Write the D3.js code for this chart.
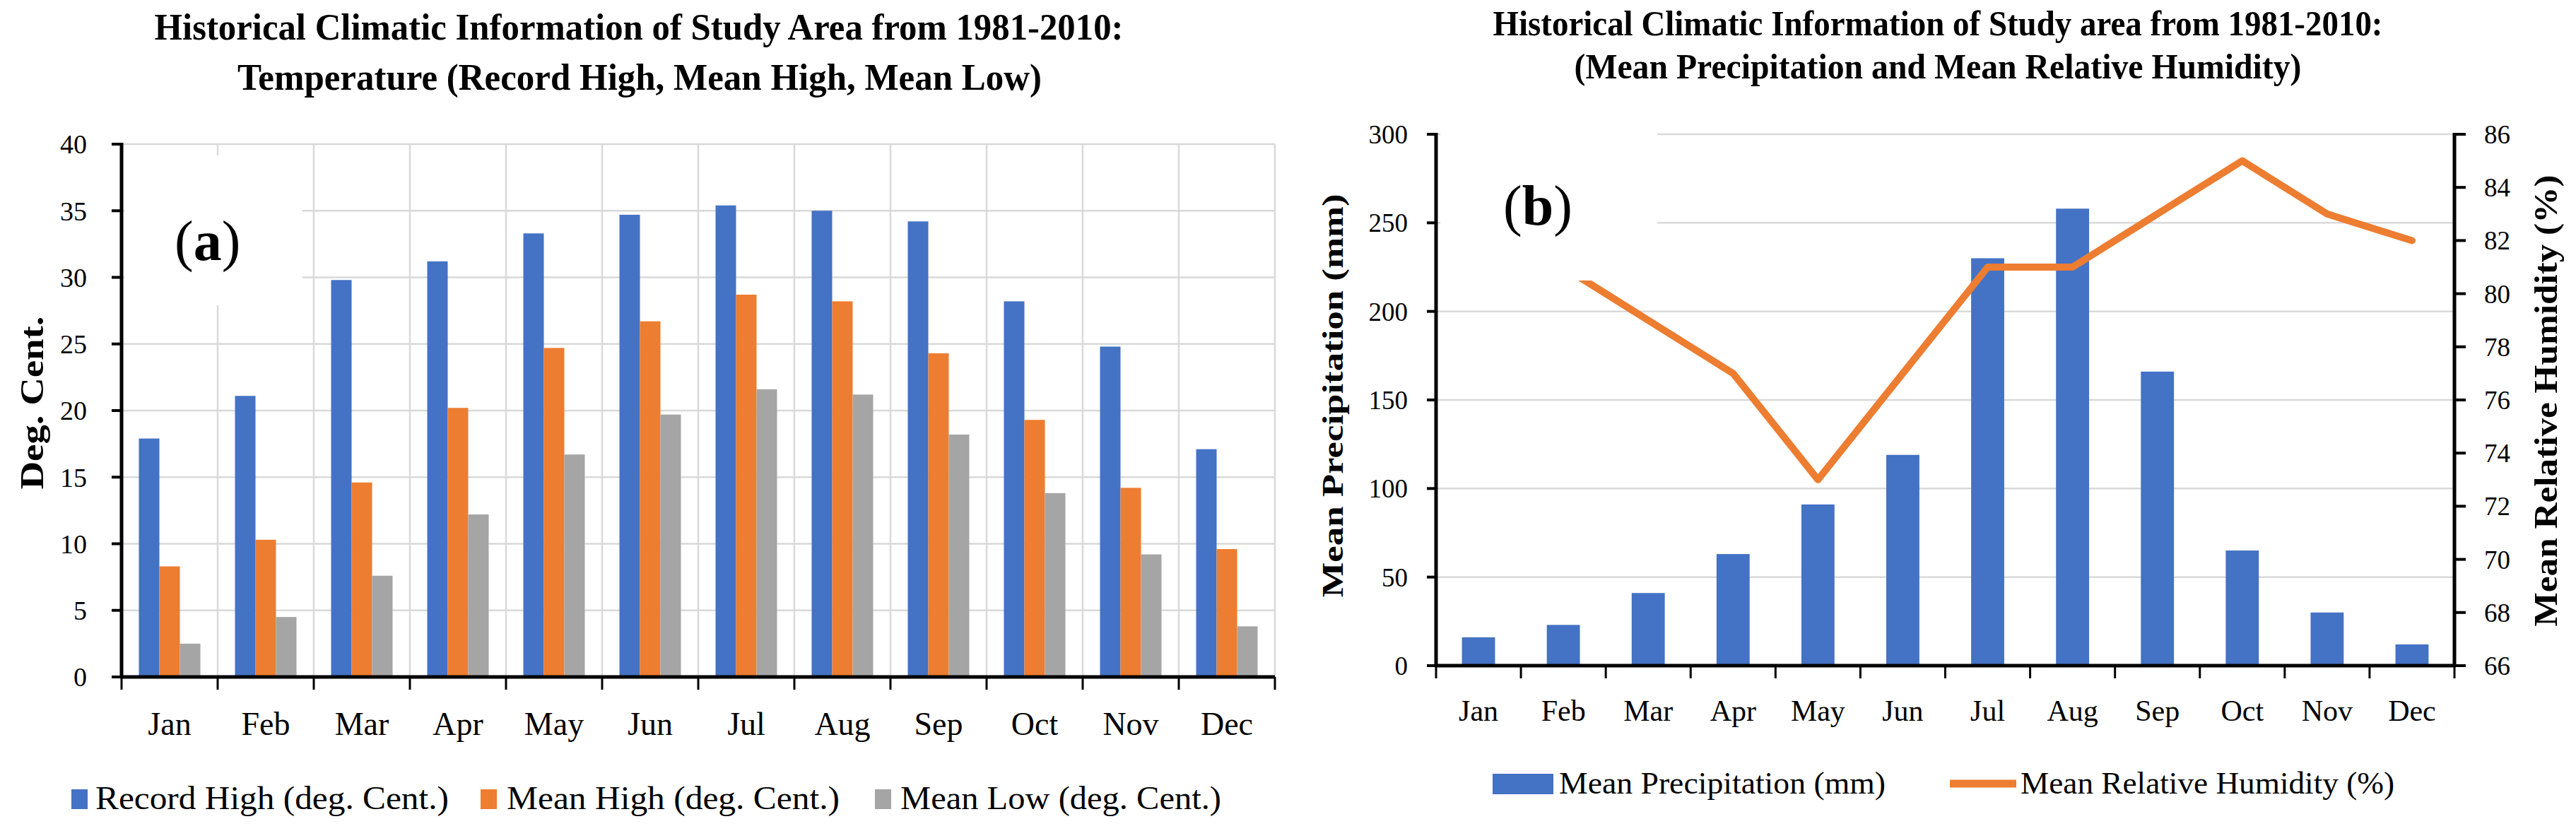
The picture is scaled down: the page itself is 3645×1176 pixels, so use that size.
<!DOCTYPE html>
<html>
<head>
<meta charset="utf-8">
<script src="https://cdn.jsdelivr.net/npm/d3@7"></script>
<style>
  body { margin: 0; background: #fff; }
  text { font-family: "Liberation Serif", "Times New Roman", serif; fill: #000; }
</style>
</head>
<body>
<div id="chart"></div>
<script>
// data
var months = ["Jan", "Feb", "Mar", "Apr", "May", "Jun", "Jul", "Aug", "Sep", "Oct", "Nov", "Dec"];
var recordHigh = [17.9, 21.1, 29.8, 31.2, 33.3, 34.7, 35.4, 35.0, 34.2, 28.2, 24.8, 17.1];
var meanHigh = [8.3, 10.3, 14.6, 20.2, 24.7, 26.7, 28.7, 28.2, 24.3, 19.3, 14.2, 9.6];
var meanLow = [2.5, 4.5, 7.6, 12.2, 16.7, 19.7, 21.6, 21.2, 18.2, 13.8, 9.2, 3.8];
var tempSeries = ["Record High (deg. Cent.)", "Mean High (deg. Cent.)", "Mean Low (deg. Cent.)"];
var tempTicks = [0, 5, 10, 15, 20, 25, 30, 35, 40];

var precipitation = [16, 23, 41, 63, 91, 119, 230, 258, 166, 65, 30, 12];
var humidity = [82, 81, 79, 77, 73, 77, 81, 81, 83, 85, 83, 82];
var precipTicks = [0, 50, 100, 150, 200, 250, 300];
var humTicks = [66, 68, 70, 72, 74, 76, 78, 80, 82, 84, 86];

var colors = ["#4472C4", "#ED7D31", "#A5A5A5"];
var gridColor = "#d9d9d9";

var svg = d3.select("#chart").append("svg")
  .attr("width", 3645)
  .attr("height", 1176);

function addText(g, x, y, str, size, opts) {
  opts = opts || {};
  var t = g.append("text")
    .attr("x", x)
    .attr("y", y)
    .attr("font-size", size)
    .attr("text-anchor", opts.anchor || "start")
    .attr("font-weight", opts.bold ? "bold" : "normal")
    .text(str);
  if (opts.len) t.attr("textLength", opts.len).attr("lengthAdjust", "spacingAndGlyphs");
  if (opts.rotate) t.attr("transform", "rotate(" + opts.rotate + "," + x + "," + y + ")");
  if (opts.dy) t.attr("dy", opts.dy);
  return t;
}

//---------------- chart (a) ----------------
var ga = svg.append("g");
var xa = d3.scaleBand().domain(months).range([172, 1804]);
var xaIn = d3.scaleBand().domain(d3.range(3)).range([0, xa.bandwidth()]).paddingOuter(0.845);
var ya = d3.scaleLinear().domain([0, 40]).range([958, 204]);

// grid
ga.selectAll(".hgrid").data(tempTicks.slice(1)).enter().append("line")
  .attr("x1", 172).attr("x2", 1804)
  .attr("y1", function(d){return ya(d);}).attr("y2", function(d){return ya(d);})
  .style("stroke", gridColor).style("stroke-width", 2.5);
ga.selectAll(".vgrid").data(months).enter().append("line")
  .attr("x1", function(d){return xa(d) + xa.bandwidth();})
  .attr("x2", function(d){return xa(d) + xa.bandwidth();})
  .attr("y1", ya(40)).attr("y2", ya(0))
  .style("stroke", gridColor).style("stroke-width", 2.5);

// label box (a)
ga.append("rect").attr("x", 176).attr("y", 220).attr("width", 252).attr("height", 212).attr("fill", "#fff");
var la = ga.append("text").attr("x", 247).attr("y", 368).attr("font-size", 80);
la.append("tspan").text("(");
la.append("tspan").attr("font-weight", "bold").text("a");
la.append("tspan").text(")");

// bars
var tempData = [recordHigh, meanHigh, meanLow];
tempData.forEach(function(vals, s){
  ga.selectAll(".bar" + s).data(vals).enter().append("rect")
    .attr("x", function(d, i){return xa(months[i]) + xaIn(s);})
    .attr("width", xaIn.bandwidth())
    .attr("y", function(d){return ya(d);})
    .attr("height", function(d){return ya(0) - ya(d);})
    .attr("fill", colors[s]);
});

// axes
ga.append("line").attr("x1", 172).attr("x2", 172).attr("y1", ya(40) - 2).attr("y2", ya(0))
  .style("stroke", "#000").style("stroke-width", 5);
ga.selectAll(".ytick").data(tempTicks).enter().append("line")
  .attr("x1", 158).attr("x2", 172)
  .attr("y1", function(d){return ya(d);}).attr("y2", function(d){return ya(d);})
  .style("stroke", "#000").style("stroke-width", 4);
ga.selectAll(".ylab").data(tempTicks).enter().append("text")
  .attr("x", 123).attr("y", function(d){return ya(d);})
  .attr("dy", "0.35em").attr("text-anchor", "end").attr("font-size", 38)
  .text(function(d){return d;});
ga.append("line").attr("x1", 170).attr("x2", 1804).attr("y1", ya(0)).attr("y2", ya(0))
  .style("stroke", "#000").style("stroke-width", 5);
ga.selectAll(".xtick").data([172].concat(months.map(function(m){return xa(m) + xa.bandwidth();}))).enter().append("line")
  .attr("x1", function(d){return d;}).attr("x2", function(d){return d;})
  .attr("y1", ya(0)).attr("y2", ya(0) + 18)
  .style("stroke", "#000").style("stroke-width", 3);
ga.selectAll(".xlab").data(months).enter().append("text")
  .attr("x", function(d){return xa(d) + xa.bandwidth() / 2;}).attr("y", 1040)
  .attr("text-anchor", "middle").attr("font-size", 46)
  .text(function(d){return d;});

// titles
addText(ga, 904, 56, "Historical Climatic Information of Study Area from 1981-2010:", 52, {anchor: "middle", bold: true, len: 1371});
addText(ga, 905, 127, "Temperature (Record High, Mean High, Mean Low)", 52, {anchor: "middle", bold: true, len: 1138});
addText(ga, 61, 570, "Deg. Cent.", 47, {anchor: "middle", bold: true, rotate: -90, len: 245});

// legend
var legA = [{x: 101, tx: 135, w: 500}, {x: 680, tx: 717, w: 471}, {x: 1238, tx: 1274, w: 454}];
legA.forEach(function(l, i){
  ga.append("rect").attr("x", l.x).attr("y", 1117).attr("width", 23).attr("height", 28).attr("fill", colors[i]);
  addText(ga, l.tx, 1145, tempSeries[i], 46, {len: l.w});
});

//---------------- chart (b) ----------------
var gb = svg.append("g");
var xb = d3.scaleBand().domain(months).range([2032, 3473]);
var xbBar = d3.scaleBand().domain(months).range([2032, 3473]).paddingInner(0.61).paddingOuter(0.305);
var yb = d3.scaleLinear().domain([0, 300]).range([942, 190]);
var yh = d3.scaleLinear().domain([66, 86]).range([942, 190]);

gb.selectAll(".hgrid").data(precipTicks.slice(1)).enter().append("line")
  .attr("x1", 2032).attr("x2", 3473)
  .attr("y1", function(d){return yb(d);}).attr("y2", function(d){return yb(d);})
  .style("stroke", gridColor).style("stroke-width", 2.5);

gb.selectAll(".pbar").data(precipitation).enter().append("rect")
  .attr("x", function(d, i){return xbBar(months[i]);})
  .attr("width", xbBar.bandwidth())
  .attr("y", function(d){return yb(d);})
  .attr("height", function(d){return yb(0) - yb(d);})
  .attr("fill", colors[0]);

var line = d3.line()
  .x(function(d, i){return xb(months[i]) + xb.bandwidth() / 2;})
  .y(function(d){return yh(d);});
gb.append("path").datum(humidity)
  .attr("d", line)
  .attr("fill", "none")
  .attr("stroke", colors[1])
  .attr("stroke-width", 10)
  .attr("stroke-linejoin", "round")
  .attr("stroke-linecap", "round");

// label box (b), drawn over the line as in the original
gb.append("rect").attr("x", 2038).attr("y", 186).attr("width", 307).attr("height", 211).attr("fill", "#fff");
var lb = gb.append("text").attr("x", 2127).attr("y", 318).attr("font-size", 80);
lb.append("tspan").text("(");
lb.append("tspan").attr("font-weight", "bold").text("b");
lb.append("tspan").text(")");

// axes
gb.append("line").attr("x1", 2032).attr("x2", 2032).attr("y1", yb(300) - 2).attr("y2", yb(0))
  .style("stroke", "#000").style("stroke-width", 5);
gb.selectAll(".ytick").data(precipTicks).enter().append("line")
  .attr("x1", 2019).attr("x2", 2032)
  .attr("y1", function(d){return yb(d);}).attr("y2", function(d){return yb(d);})
  .style("stroke", "#000").style("stroke-width", 4);
gb.selectAll(".ylab").data(precipTicks).enter().append("text")
  .attr("x", 1992).attr("y", function(d){return yb(d);})
  .attr("dy", "0.35em").attr("text-anchor", "end").attr("font-size", 37)
  .text(function(d){return d;});

gb.append("line").attr("x1", 3473).attr("x2", 3473).attr("y1", yh(86) - 2).attr("y2", yh(66))
  .style("stroke", "#000").style("stroke-width", 5);
gb.selectAll(".htick").data(humTicks).enter().append("line")
  .attr("x1", 3473).attr("x2", 3489)
  .attr("y1", function(d){return yh(d);}).attr("y2", function(d){return yh(d);})
  .style("stroke", "#000").style("stroke-width", 4);
gb.selectAll(".hlab").data(humTicks).enter().append("text")
  .attr("x", 3515).attr("y", function(d){return yh(d);})
  .attr("dy", "0.35em").attr("text-anchor", "start").attr("font-size", 37)
  .text(function(d){return d;});

gb.append("line").attr("x1", 2030).attr("x2", 3475).attr("y1", yb(0)).attr("y2", yb(0))
  .style("stroke", "#000").style("stroke-width", 5);
gb.selectAll(".xtick").data([2032].concat(months.map(function(m){return xb(m) + xb.bandwidth();}))).enter().append("line")
  .attr("x1", function(d){return d;}).attr("x2", function(d){return d;})
  .attr("y1", yb(0)).attr("y2", yb(0) + 18)
  .style("stroke", "#000").style("stroke-width", 3);
gb.selectAll(".xlab").data(months).enter().append("text")
  .attr("x", function(d){return xb(d) + xb.bandwidth() / 2;}).attr("y", 1020)
  .attr("text-anchor", "middle").attr("font-size", 42)
  .text(function(d){return d;});

// titles
addText(gb, 2742, 50, "Historical Climatic Information of Study area from 1981-2010:", 50, {anchor: "middle", bold: true, len: 1259});
addText(gb, 2742, 111, "(Mean Precipitation and Mean Relative Humidity)", 50, {anchor: "middle", bold: true, len: 1029});
addText(gb, 1900, 560, "Mean Precipitation (mm)", 43, {anchor: "middle", bold: true, rotate: -90, len: 571});
addText(gb, 3618, 567, "Mean Relative Humidity (%)", 47, {anchor: "middle", bold: true, rotate: -90, len: 639});

// legend
gb.append("rect").attr("x", 2112).attr("y", 1095).attr("width", 86).attr("height", 29).attr("fill", colors[0]);
addText(gb, 2206, 1123, "Mean Precipitation (mm)", 44, {len: 462});
gb.append("line").attr("x1", 2759).attr("x2", 2853).attr("y1", 1109).attr("y2", 1109)
  .attr("stroke", colors[1]).attr("stroke-width", 11);
addText(gb, 2859, 1123, "Mean Relative Humidity (%)", 44, {len: 529});
</script>
</body>
</html>
